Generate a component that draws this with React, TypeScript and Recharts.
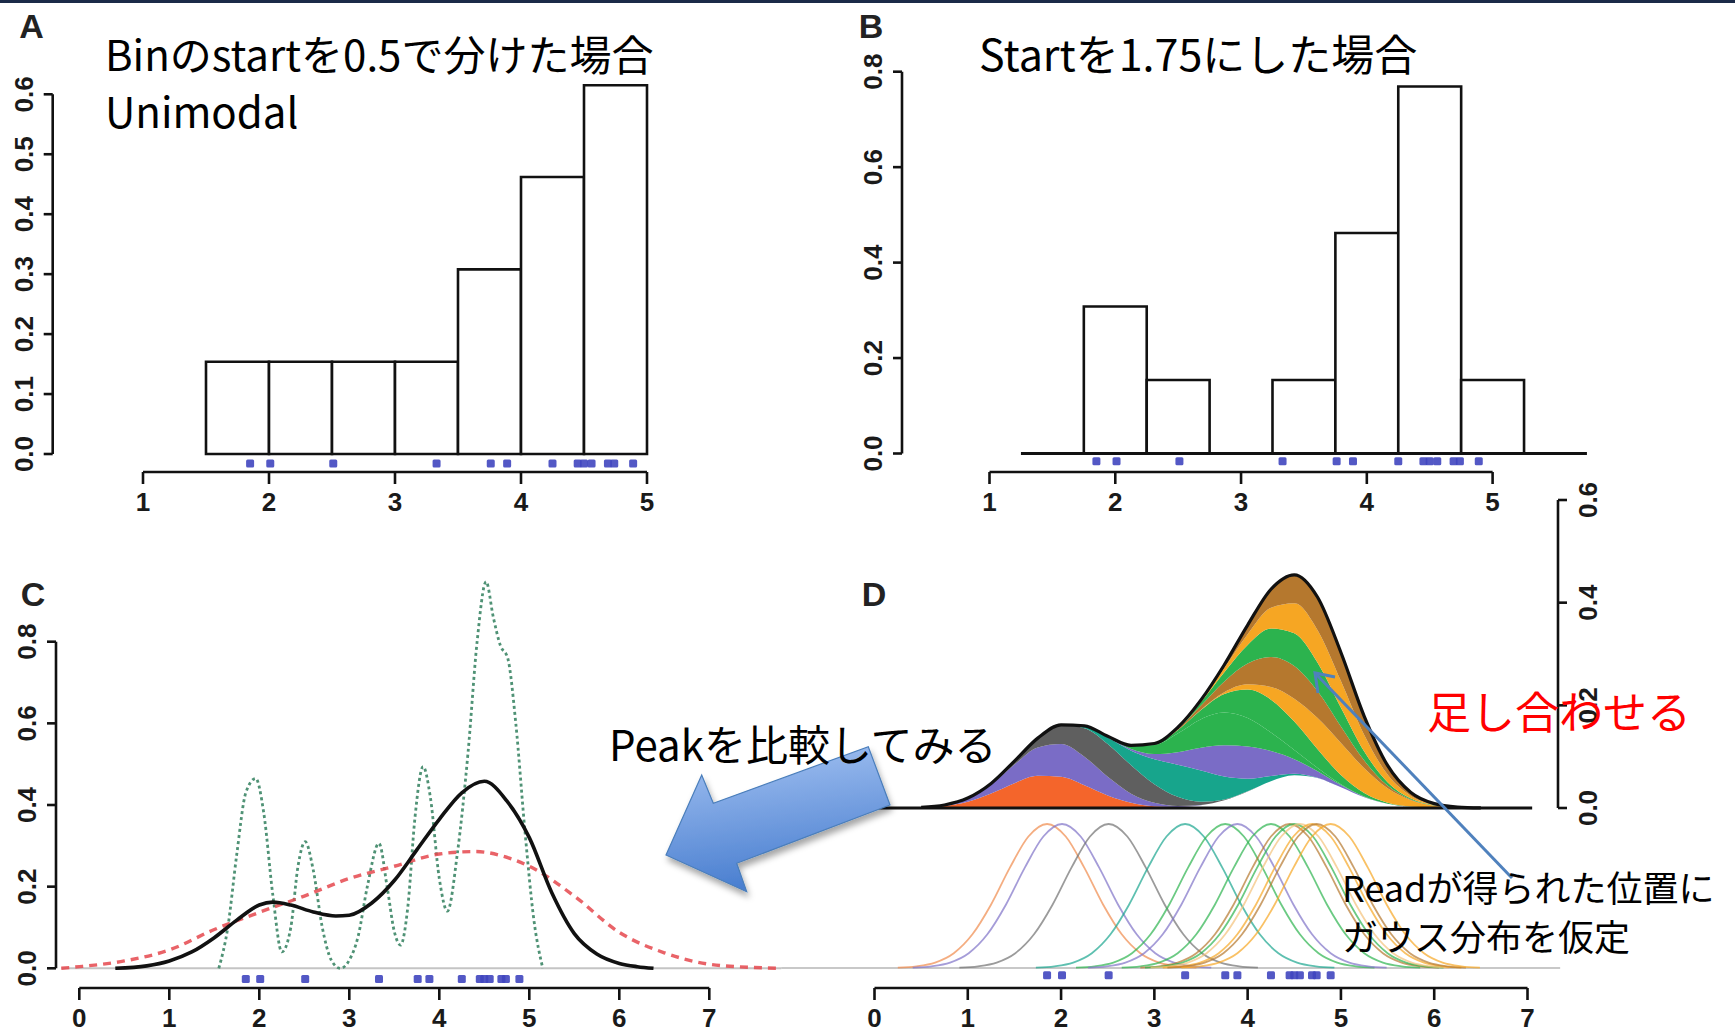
import React from "react";
import {
  ComposedChart,
  XAxis,
  YAxis,
  Line,
  Area,
  Scatter,
  ReferenceLine,
  ReferenceArea,
} from "recharts";

// ---------------- data ----------------
const readPositions = [1.85, 2.01, 2.51, 3.33, 3.76, 3.89, 4.25, 4.45, 4.5, 4.56, 4.69, 4.74, 4.89];

const histABinStart = [1.5, 2.0, 2.5, 3.0, 3.5, 4.0, 4.5];
const histADensity = [0.154, 0.154, 0.154, 0.154, 0.308, 0.462, 0.615];
const histBBinStart = [1.75, 2.25, 2.75, 3.25, 3.75, 4.25, 4.75];
const histBDensity = [0.308, 0.154, 0, 0.154, 0.462, 0.769, 0.154];
const binWidth = 0.5;

const ticksAX = [1, 2, 3, 4, 5];
const ticksAY = [0, 0.1, 0.2, 0.3, 0.4, 0.5, 0.6];
const ticksBY = [0, 0.2, 0.4, 0.6, 0.8];
const ticksCX = [0, 1, 2, 3, 4, 5, 6, 7];
const ticksCY = [0, 0.2, 0.4, 0.6, 0.8];
const ticksDY = [0, 0.2, 0.4, 0.6];

// panel C curves
const blackCX = [0.4, 0.75, 1.0, 1.25, 1.5, 1.75, 2.0, 2.15, 2.35, 2.6, 2.85, 3.0, 3.25, 3.5, 3.75, 4.0, 4.25, 4.5, 4.75, 5.0, 5.25, 5.5, 5.75, 6.0, 6.2, 6.38];
const blackCY = [0, 0.006, 0.018, 0.04, 0.075, 0.118, 0.155, 0.162, 0.155, 0.138, 0.128, 0.13, 0.16, 0.215, 0.29, 0.365, 0.43, 0.458, 0.41, 0.32, 0.185, 0.085, 0.035, 0.012, 0.004, 0];
const redCX = [-0.2, 0, 0.5, 1.0, 1.5, 2.0, 2.5, 3.0, 3.5, 4.0, 4.4, 4.8, 5.0, 5.5, 6.0, 6.5, 7.0, 7.5, 7.8];
const redCY = [0, 0.004, 0.018, 0.045, 0.095, 0.137, 0.177, 0.22, 0.25, 0.28, 0.286, 0.268, 0.25, 0.177, 0.088, 0.038, 0.01, 0.002, 0];
const greenCX = [1.55, 1.65, 1.75, 1.85, 1.96, 2.05, 2.15, 2.25, 2.35, 2.43, 2.51, 2.6, 2.7, 2.8, 2.9, 3.0, 3.1, 3.2, 3.33, 3.42, 3.5, 3.57, 3.65, 3.73, 3.82, 3.9, 4.0, 4.09, 4.2, 4.32, 4.42, 4.52, 4.6, 4.68, 4.76, 4.85, 4.95, 5.05, 5.15];
const greenCY = [0, 0.1, 0.28, 0.43, 0.465, 0.38, 0.18, 0.04, 0.1, 0.25, 0.31, 0.24, 0.1, 0.02, 0.0, 0.02, 0.08, 0.2, 0.306, 0.2, 0.09, 0.057, 0.15, 0.37, 0.494, 0.42, 0.22, 0.14, 0.28, 0.53, 0.8, 0.947, 0.86, 0.79, 0.76, 0.6, 0.34, 0.12, 0];

// panel D: per-read contributions to the summed density (read at these x)
const densGridX = [0.5, 0.75, 1, 1.25, 1.5, 1.75, 2, 2.25, 2.5, 2.75, 3, 3.25, 3.5, 3.75, 4, 4.25, 4.5, 4.75, 5, 5.25, 5.5, 5.75, 6, 6.25, 6.5];
const densK185 = [0.001, 0.0041, 0.0124, 0.0282, 0.0484, 0.0626, 0.0608, 0.0445, 0.0245, 0.0102, 0.0032, 0.0007, 0.0001, 0, 0, 0, 0, 0, 0, 0, 0, 0, 0, 0, 0];
const densK201 = [0.0004, 0.0018, 0.0066, 0.0178, 0.0363, 0.0555, 0.064, 0.0555, 0.0363, 0.0178, 0.0066, 0.0018, 0.0004, 0, 0, 0, 0, 0, 0, 0, 0, 0, 0, 0, 0];
const densK251 = [0, 0, 0.0004, 0.0018, 0.0066, 0.0178, 0.0363, 0.0555, 0.064, 0.0555, 0.0363, 0.0178, 0.0066, 0.0018, 0.0004, 0, 0, 0, 0, 0, 0, 0, 0, 0, 0];
const densK333 = [0, 0, 0, 0, 0, 0.0002, 0.001, 0.0041, 0.0124, 0.0282, 0.0484, 0.0626, 0.0608, 0.0445, 0.0245, 0.0102, 0.0032, 0.0007, 0.0001, 0, 0, 0, 0, 0, 0];
const densK376 = [0, 0, 0, 0, 0, 0, 0, 0.0004, 0.0018, 0.0066, 0.0178, 0.0363, 0.0555, 0.064, 0.0555, 0.0363, 0.0178, 0.0066, 0.0018, 0.0004, 0, 0, 0, 0, 0];
const densK389 = [0, 0, 0, 0, 0, 0, 0, 0.0001, 0.0007, 0.0032, 0.0102, 0.0245, 0.0445, 0.0608, 0.0626, 0.0484, 0.0282, 0.0124, 0.0041, 0.001, 0.0002, 0, 0, 0, 0];
const densK425 = [0, 0, 0, 0, 0, 0, 0, 0, 0, 0.0004, 0.0018, 0.0066, 0.0178, 0.0363, 0.0555, 0.064, 0.0555, 0.0363, 0.0178, 0.0066, 0.0018, 0.0004, 0, 0, 0];
const densK445 = [0, 0, 0, 0, 0, 0, 0, 0, 0, 0.0001, 0.0005, 0.0024, 0.0082, 0.021, 0.0404, 0.0584, 0.0636, 0.0522, 0.0322, 0.0149, 0.0052, 0.0014, 0.0003, 0, 0];
const densK450 = [0, 0, 0, 0, 0, 0, 0, 0, 0, 0, 0.0004, 0.0018, 0.0066, 0.0178, 0.0363, 0.0555, 0.064, 0.0555, 0.0363, 0.0178, 0.0066, 0.0018, 0.0004, 0, 0];
const densK456 = [0, 0, 0, 0, 0, 0, 0, 0, 0, 0, 0.0003, 0.0014, 0.0052, 0.0149, 0.0322, 0.0522, 0.0636, 0.0584, 0.0404, 0.021, 0.0082, 0.0024, 0.0005, 0.0001, 0];
const densK469 = [0, 0, 0, 0, 0, 0, 0, 0, 0, 0, 0.0001, 0.0005, 0.0024, 0.0082, 0.021, 0.0404, 0.0584, 0.0636, 0.0522, 0.0322, 0.0149, 0.0052, 0.0014, 0.0003, 0];
const densK474 = [0, 0, 0, 0, 0, 0, 0, 0, 0, 0, 0, 0.0004, 0.0018, 0.0066, 0.0178, 0.0363, 0.0555, 0.064, 0.0555, 0.0363, 0.0178, 0.0066, 0.0018, 0.0004, 0];
const densK489 = [0, 0, 0, 0, 0, 0, 0, 0, 0, 0, 0, 0.0001, 0.0007, 0.0032, 0.0102, 0.0245, 0.0445, 0.0608, 0.0626, 0.0484, 0.0282, 0.0124, 0.0041, 0.001, 0.0002];

// stacking order (bottom first) and layer colours
const stackLayers = [densK456, densK185, densK201, densK251, densK333, densK389, densK376, densK425, densK489, densK445, densK450, densK469, densK474];
const stackColors = ["#ffffff", "#f4652b", "#7a6cc6", "#5f5f5f", "#17a58c", "#7a6cc6", "#2cb34e", "#2cb34e", "#f6a623", "#b5782e", "#2cb34e", "#f6a623", "#b5782e"];

// individual kernel profile (normalised), read from the lower part of D
const kernelOffsets = [-1.6, -1.4, -1.2, -1.0, -0.8, -0.6, -0.4, -0.2, 0, 0.2, 0.4, 0.6, 0.8, 1.0, 1.2, 1.4, 1.6];
const kernelShape = [0.003, 0.012, 0.038, 0.103, 0.234, 0.441, 0.695, 0.913, 1, 0.913, 0.695, 0.441, 0.234, 0.103, 0.038, 0.012, 0.003];
const kernelColors = ["#f08a4b", "#7f72c8", "#707070", "#1aa58f", "#2cb34e", "#7f72c8", "#2cb34e", "#b5782e", "#2cb34e", "#f3c27a", "#f6a623", "#b5782e", "#f6a623"];

// ---------------- layout helpers ----------------
type Cal = { x0: number; px0: number; x1: number; px1: number; y0: number; py0: number; y1: number; py1: number };
type Box = { l: number; r: number; t: number; b: number };

function frame(cal: Cal, rect: Box, pad: Box) {
  const sx = (cal.px1 - cal.px0) / (cal.x1 - cal.x0);
  const sy = (cal.py1 - cal.py0) / (cal.y1 - cal.y0);
  const xDomain: [number, number] = [cal.x0 + (rect.l - cal.px0) / sx, cal.x0 + (rect.r - cal.px0) / sx];
  const yDomain: [number, number] = [cal.y0 + (rect.b - cal.py0) / sy, cal.y0 + (rect.t - cal.py0) / sy];
  return {
    style: { position: "absolute" as const, left: rect.l - pad.l, top: rect.t - pad.t },
    width: rect.r - rect.l + pad.l + pad.r,
    height: rect.b - rect.t + pad.t + pad.b,
    xDomain,
    yDomain,
  };
}

const tickFont: React.CSSProperties = {
  fontFamily: '"Liberation Sans Narrow", "Liberation Sans", Arial, sans-serif',
  fontWeight: 700,
  fontSize: 26,
  fill: "#1a1a1a",
};
const axisStroke = { stroke: "#111", strokeWidth: 2.6 };

const xTick = (props: any) => (
  <text x={props.x} y={props.y + 18} textAnchor="middle" dominantBaseline="central" style={tickFont}>
    {String(props.payload.value)}
  </text>
);
const yTickLeft = (props: any) => {
  const cx = props.x - 20;
  return (
    <text x={cx} y={props.y} transform={`rotate(-90 ${cx} ${props.y})`} textAnchor="middle" dominantBaseline="central" style={tickFont}>
      {Number(props.payload.value).toFixed(1)}
    </text>
  );
};
const yTickRight = (props: any) => {
  const cx = props.x + 21;
  return (
    <text x={cx} y={props.y} transform={`rotate(-90 ${cx} ${props.y})`} textAnchor="middle" dominantBaseline="central" style={tickFont}>
      {Number(props.payload.value).toFixed(1)}
    </text>
  );
};
const rugShape = (p: any) => <rect x={p.cx - 4} y={p.cy - 4} width={8} height={8} rx={1.5} fill="#4046bf" fillOpacity={0.9} />;

// ---------------- panel geometry ----------------
const calA: Cal = { x0: 1, px0: 143, x1: 5, px1: 647, y0: 0, py0: 454, y1: 0.6, py1: 94.3 };
const rectA: Box = { l: 52.7, r: 672, t: 60, b: 472 };
const padA: Box = { l: 52.7, r: 8, t: 10, b: 55 };

const calB: Cal = { x0: 1, px0: 989.5, x1: 5, px1: 1492.6, y0: 0, py0: 453.5, y1: 0.8, py1: 71.7 };
const rectB: Box = { l: 902, r: 1625, t: 55, b: 472 };
const padB: Box = { l: 60, r: 8, t: 10, b: 55 };

const calC: Cal = { x0: 0, px0: 79.3, x1: 7, px1: 709.3, y0: 0, py0: 968.3, y1: 0.8, py1: 641.7 };
const rectC: Box = { l: 56, r: 790, t: 560, b: 988 };
const padC: Box = { l: 56, r: 5, t: 5, b: 45 };

const calDU: Cal = { x0: 0, px0: 874.5, x1: 7, px1: 1527.5, y0: 0, py0: 808, y1: 0.6, py1: 500 };
const rectDU: Box = { l: 780, r: 1558, t: 480, b: 815 };
const padDU: Box = { l: 0, r: 60, t: 5, b: 30 };

const calDL: Cal = { x0: 0, px0: 874.5, x1: 7, px1: 1527.5, y0: 0, py0: 968, y1: 1, py1: 824 };
const rectDL: Box = { l: 780, r: 1558, t: 815, b: 988 };
const padDL: Box = { l: 0, r: 5, t: 0, b: 45 };

// rug levels (positions just below zero line)
const rugLevelAB = -0.016;
const rugLevelC = -0.026;
const rugLevelD = -0.05;

// ---------------- panels ----------------
function HistPanel({ cal, rect, pad, starts, dens, ticksY, yTop, baseline }: any) {
  const f = frame(cal, rect, pad);
  const rug = readPositions.map((p) => ({ x: p, y: rugLevelAB }));
  return (
    <div style={f.style}>
      <ComposedChart width={f.width} height={f.height} margin={{ top: pad.t, right: pad.r, bottom: 0, left: 0 }}>
        <XAxis type="number" dataKey="x" domain={f.xDomain} ticks={ticksAX} axisLine={false} tickLine={axisStroke} tickSize={12} tickMargin={0} tick={xTick} height={pad.b} allowDataOverflow interval={0} />
        <YAxis type="number" dataKey="y" domain={f.yDomain} ticks={ticksY} axisLine={false} tickLine={axisStroke} tickSize={9} tickMargin={0} tick={yTickLeft} width={pad.l} allowDataOverflow interval={0} />
        {baseline ? (
          <ReferenceLine segment={[{ x: baseline[0], y: 0 }, { x: baseline[1], y: 0 }]} stroke="#111" strokeWidth={2.8} ifOverflow="visible" />
        ) : null}
        {starts.map((s: number, i: number) =>
          dens[i] > 0 ? (
            <ReferenceArea key={i} x1={s} x2={s + binWidth} y1={0} y2={dens[i]} fill="#ffffff" fillOpacity={1} stroke="#111" strokeWidth={2.6} ifOverflow="visible" />
          ) : null
        )}
        <ReferenceLine segment={[{ x: 1, y: f.yDomain[0] }, { x: 5, y: f.yDomain[0] }]} stroke="#111" strokeWidth={2.6} ifOverflow="visible" />
        <ReferenceLine segment={[{ x: f.xDomain[0], y: 0 }, { x: f.xDomain[0], y: yTop }]} stroke="#111" strokeWidth={2.6} ifOverflow="visible" />
        <Scatter data={rug} shape={rugShape} isAnimationActive={false} />
      </ComposedChart>
    </div>
  );
}

function PanelC() {
  const f = frame(calC, rectC, padC);
  const black = blackCX.map((x, i) => ({ x, y: blackCY[i] }));
  const red = redCX.map((x, i) => ({ x, y: redCY[i] }));
  const green = greenCX.map((x, i) => ({ x, y: greenCY[i] }));
  const rug = readPositions.map((p) => ({ x: p, y: rugLevelC }));
  return (
    <div style={f.style}>
      <ComposedChart width={f.width} height={f.height} margin={{ top: padC.t, right: padC.r, bottom: 0, left: 0 }}>
        <XAxis type="number" dataKey="x" domain={f.xDomain} ticks={ticksCX} axisLine={false} tickLine={axisStroke} tickSize={12} tickMargin={0} tick={xTick} height={padC.b} allowDataOverflow interval={0} />
        <YAxis type="number" dataKey="y" domain={f.yDomain} ticks={ticksCY} axisLine={false} tickLine={axisStroke} tickSize={9} tickMargin={0} tick={yTickLeft} width={padC.l} allowDataOverflow interval={0} />
        <ReferenceLine segment={[{ x: -0.2, y: 0 }, { x: 7.8, y: 0 }]} stroke="#c4c4c4" strokeWidth={2} ifOverflow="visible" />
        <Line data={green} dataKey="y" type="monotone" stroke="#4f9275" strokeWidth={2.8} strokeDasharray="3 3" dot={false} activeDot={false} isAnimationActive={false} />
        <Line data={red} dataKey="y" type="monotone" stroke="#e5484d" strokeOpacity={0.85} strokeWidth={3.4} strokeDasharray="8 6" dot={false} activeDot={false} isAnimationActive={false} />
        <Line data={black} dataKey="y" type="monotone" stroke="#111" strokeWidth={3.6} dot={false} activeDot={false} isAnimationActive={false} />
        <ReferenceLine segment={[{ x: 0, y: f.yDomain[0] }, { x: 7, y: f.yDomain[0] }]} stroke="#111" strokeWidth={2.6} ifOverflow="visible" />
        <ReferenceLine segment={[{ x: f.xDomain[0], y: 0 }, { x: f.xDomain[0], y: 0.8 }]} stroke="#111" strokeWidth={2.6} ifOverflow="visible" />
        <Scatter data={rug} shape={rugShape} isAnimationActive={false} />
      </ComposedChart>
    </div>
  );
}

function PanelDUpper() {
  const f = frame(calDU, rectDU, padDU);
  const rows = densGridX.map((x, i) => {
    const row: any = { x };
    stackLayers.forEach((arr, j) => {
      row["L" + j] = arr[i];
    });
    return row;
  });
  return (
    <div style={f.style}>
      <ComposedChart data={rows} width={f.width} height={f.height} margin={{ top: padDU.t, right: 0, bottom: padDU.b, left: padDU.l }}>
        <XAxis type="number" dataKey="x" domain={f.xDomain} hide allowDataOverflow />
        <YAxis orientation="right" type="number" domain={f.yDomain} ticks={ticksDY} axisLine={false} tickLine={axisStroke} tickSize={9} tickMargin={0} tick={yTickRight} width={padDU.r} allowDataOverflow interval={0} />
        {stackLayers.map((_, j) => (
          <Area key={j} dataKey={"L" + j} stackId="dens" type="monotone" stroke="none" fill={stackColors[j]} fillOpacity={1} isAnimationActive={false} dot={false} activeDot={false} />
        ))}
        <Area dataKey={() => 0} stackId="dens" type="monotone" stroke="#111" strokeWidth={3.2} fill="none" fillOpacity={0} isAnimationActive={false} dot={false} activeDot={false} />
        <ReferenceLine segment={[{ x: -0.3, y: 0 }, { x: 7.05, y: 0 }]} stroke="#111" strokeWidth={3} ifOverflow="visible" />
        <ReferenceLine segment={[{ x: f.xDomain[1], y: 0 }, { x: f.xDomain[1], y: 0.6 }]} stroke="#111" strokeWidth={2.6} ifOverflow="visible" />
      </ComposedChart>
    </div>
  );
}

function PanelDLower() {
  const f = frame(calDL, rectDL, padDL);
  const rug = readPositions.map((p) => ({ x: p, y: rugLevelD }));
  return (
    <div style={f.style}>
      <ComposedChart width={f.width} height={f.height} margin={{ top: padDL.t, right: padDL.r, bottom: 0, left: padDL.l }}>
        <XAxis type="number" dataKey="x" domain={f.xDomain} ticks={ticksCX} axisLine={false} tickLine={axisStroke} tickSize={12} tickMargin={0} tick={xTick} height={padDL.b} allowDataOverflow interval={0} />
        <YAxis type="number" dataKey="y" domain={f.yDomain} hide allowDataOverflow />
        <ReferenceLine segment={[{ x: -1.0, y: 0 }, { x: 7.35, y: 0 }]} stroke="#c8c8c8" strokeWidth={2} ifOverflow="visible" />
        {readPositions.map((p, i) => (
          <Line
            key={i}
            data={kernelOffsets.map((o, j) => ({ x: p + o, y: kernelShape[j] }))}
            dataKey="y"
            type="monotone"
            stroke={kernelColors[i]}
            strokeOpacity={0.7}
            strokeWidth={1.8}
            dot={false}
            activeDot={false}
            isAnimationActive={false}
          />
        ))}
        <ReferenceLine segment={[{ x: 0, y: f.yDomain[0] }, { x: 7, y: f.yDomain[0] }]} stroke="#111" strokeWidth={2.6} ifOverflow="visible" />
        <Scatter data={rug} shape={rugShape} isAnimationActive={false} />
      </ComposedChart>
    </div>
  );
}

// ---------------- annotations ----------------
const jp = '"Noto Sans CJK JP", "Noto Sans", sans-serif';
const letterFont: React.CSSProperties = { fontFamily: '"Liberation Sans", Arial, sans-serif', fontWeight: 700, fontSize: 34, fill: "#222" };

function Overlay() {
  return (
    <svg width={1735} height={1033} style={{ position: "absolute", left: 0, top: 0, pointerEvents: "none" }}>
      <defs>
        <linearGradient id="blockGrad" x1="0" y1="0" x2="0.2" y2="1">
          <stop offset="0" stopColor="#a6c4f3" />
          <stop offset="1" stopColor="#4a7fd0" />
        </linearGradient>
        <filter id="shadow" x="-20%" y="-20%" width="150%" height="160%">
          <feDropShadow dx="2" dy="5" stdDeviation="3" floodColor="#000" floodOpacity="0.35" />
        </filter>
      </defs>
      <rect x={0} y={0} width={1735} height={3} fill="#1b2a48" />
      <text x={31.5} y={38} textAnchor="middle" style={letterFont}>A</text>
      <text x={871} y={38} textAnchor="middle" style={letterFont}>B</text>
      <text x={33} y={606} textAnchor="middle" style={letterFont}>C</text>
      <text x={874} y={606} textAnchor="middle" style={letterFont}>D</text>

      <text x={105} y={71} style={{ fontFamily: jp, fontSize: 42, fill: "#000" }}>Binのstartを0.5で分けた場合</text>
      <text x={105} y={128} style={{ fontFamily: jp, fontSize: 42, fill: "#000" }}>Unimodal</text>
      <text x={979} y={71} style={{ fontFamily: jp, fontSize: 43, fill: "#000" }}>Startを1.75にした場合</text>

      <polygon
        points="666,855 701.7,775 713.3,803.3 868.3,746.7 890,805 736.7,863.3 746.7,891.7"
        fill="url(#blockGrad)"
        stroke="#4a7ebb"
        strokeWidth={1.2}
        filter="url(#shadow)"
      />
      <text x={609} y={761} style={{ fontFamily: jp, fontSize: 42, fill: "#000" }}>Peakを比較してみる</text>

      <text x={1427} y={729} style={{ fontFamily: jp, fontSize: 44, fill: "#ff0000" }}>足し合わせる</text>

      <line x1={1512} y1={878} x2={1315} y2={673} stroke="#4f81bd" strokeWidth={3} />
      <polyline points="1318,693 1315,673 1335,677" fill="none" stroke="#4f81bd" strokeWidth={3} />

      <text x={1342} y={902} style={{ fontFamily: jp, fontSize: 36, fill: "#000" }}>Readが得られた位置に</text>
      <text x={1342} y={951} style={{ fontFamily: jp, fontSize: 36, fill: "#000" }}>ガウス分布を仮定</text>
    </svg>
  );
}

export default function App() {
  return (
    <div style={{ position: "absolute", left: 0, top: 0, width: 1735, height: 1033, background: "#ffffff", overflow: "hidden" }}>
      <HistPanel cal={calA} rect={rectA} pad={padA} starts={histABinStart} dens={histADensity} ticksY={ticksAY} yTop={0.6} />
      <HistPanel cal={calB} rect={rectB} pad={padB} starts={histBBinStart} dens={histBDensity} ticksY={ticksBY} yTop={0.8} baseline={[1.25, 5.75]} />
      <PanelC />
      <PanelDLower />
      <PanelDUpper />
      <Overlay />
    </div>
  );
}
